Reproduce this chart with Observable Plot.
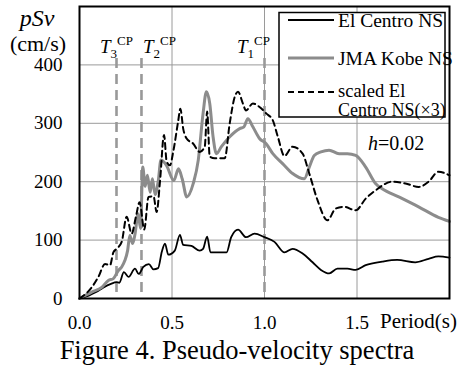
<!DOCTYPE html>
<html><head><meta charset="utf-8">
<script src="https://cdn.jsdelivr.net/npm/d3@7"></script>
<script src="https://cdn.jsdelivr.net/npm/@observablehq/plot@0.6"></script>
<style>
body{margin:0;background:#fff;}
#cap{font-family:"Liberation Serif",serif;font-size:26.5px;line-height:30px;text-align:center;width:462px;padding-left:12px;box-sizing:border-box;color:#000;}
</style></head><body><div id="chart"></div><div id="cap">Figure 4. Pseudo-velocity spectra</div>
<script>
// Data: [period (s), pSv (cm/s)]
const elCentro = [[0,0],[0.05,5],[0.09,11],[0.13,19],[0.17,25],[0.2,28],[0.215,27],[0.24,45],[0.265,37],[0.3,51],[0.32,42],[0.345,54],[0.375,59],[0.4,50],[0.425,52],[0.445,80],[0.462,94],[0.48,75],[0.515,82],[0.543,109],[0.56,92],[0.605,90],[0.65,82],[0.668,85],[0.69,106],[0.708,79],[0.795,79],[0.82,105],[0.857,118],[0.9,105],[0.946,111],[1.0,105],[1.054,97],[1.108,79],[1.152,85],[1.206,77],[1.26,62],[1.305,49],[1.35,43],[1.394,51],[1.448,51],[1.493,49],[1.547,57],[1.636,63],[1.717,66],[1.815,62],[1.887,68],[1.94,72],[2.0,70]];
const jmaKobe = [[0,0],[0.066,11],[0.12,19],[0.156,31],[0.183,34],[0.21,48],[0.228,54],[0.245,65],[0.26,82],[0.272,108],[0.287,94],[0.3,110],[0.317,145],[0.33,120],[0.342,225],[0.355,192],[0.367,211],[0.382,182],[0.394,205],[0.409,178],[0.426,202],[0.44,237],[0.47,228],[0.51,202],[0.535,222],[0.555,205],[0.58,174],[0.615,197],[0.642,237],[0.668,317],[0.686,354],[0.704,334],[0.722,277],[0.74,248],[0.767,260],[0.812,277],[0.866,291],[0.889,294],[0.91,308],[0.937,294],[0.973,274],[1.009,265],[1.045,248],[1.098,231],[1.152,214],[1.215,205],[1.242,225],[1.269,245],[1.305,251],[1.349,254],[1.403,248],[1.448,248],[1.493,245],[1.547,225],[1.6,197],[1.636,188],[1.726,174],[1.833,157],[1.94,139],[2.0,132]];
const scaledElCentro = [[0,0],[0.066,19],[0.102,37],[0.138,59],[0.165,57],[0.183,79],[0.2,85],[0.228,97],[0.255,140],[0.282,111],[0.305,140],[0.325,165],[0.35,118],[0.373,174],[0.4,175],[0.417,148],[0.435,200],[0.457,280],[0.471,235],[0.489,228],[0.507,252],[0.534,305],[0.545,325],[0.561,290],[0.579,274],[0.615,265],[0.65,251],[0.677,260],[0.69,320],[0.704,243],[0.731,240],[0.785,240],[0.812,300],[0.839,345],[0.857,354],[0.883,334],[0.9,322],[0.937,334],[0.973,328],[1.009,317],[1.045,305],[1.072,277],[1.108,244],[1.152,260],[1.206,248],[1.242,214],[1.287,168],[1.34,134],[1.385,154],[1.43,157],[1.493,151],[1.547,171],[1.6,185],[1.69,200],[1.762,197],[1.833,191],[1.887,200],[1.94,217],[2.0,211]];
const cpPeriods = [0.2, 0.335, 1.0];
const cpSubs = ["3", "2", "1"];
const xTicks = [0, 0.5, 1.0, 1.5];
const xGridTicks = [0.5, 1.0, 1.5];
const yTicks = [0, 100, 200, 300, 400];
const yGridTicks = [100, 200, 300, 400];
const seriesNames = ["El Centro NS", "JMA Kobe NS", "scaled El|Centro NS(×3)"];
const dampingText = "0.02";

const serif = "'Liberation Serif', 'Times New Roman', serif";
const lineStyles = [
  {stroke: "#000", strokeWidth: 1.8},
  {stroke: "#8c8c8c", strokeWidth: 3},
  {stroke: "#000", strokeWidth: 2, strokeDasharray: "6,4"}
];
const pts = arr => arr.map(([T, v]) => ({T, v}));

const plot = Plot.plot({
  width: 462, height: 335,
  marginLeft: 79, marginRight: 13, marginTop: 6, marginBottom: 37,
  style: {fontFamily: serif, fontSize: "19px", color: "#000", background: "#fff", overflow: "visible"},
  x: {domain: [0, 2], label: null},
  y: {domain: [0, 500], label: null},
  marks: [
    Plot.gridX(xGridTicks, {stroke: "#9a9a9a", strokeOpacity: 1, strokeWidth: 1}),
    Plot.gridY(yGridTicks, {stroke: "#9a9a9a", strokeOpacity: 1, strokeWidth: 1}),
    Plot.ruleX(cpPeriods, {stroke: "#999", strokeWidth: 2.6, strokeDasharray: "10,6", insetTop: 52}),
    Plot.line(pts(elCentro), {x: "T", y: "v", curve: "monotone-x", ...lineStyles[0]}),
    Plot.line(pts(jmaKobe), {x: "T", y: "v", curve: "monotone-x", ...lineStyles[1]}),
    Plot.line(pts(scaledElCentro), {x: "T", y: "v", curve: "monotone-x", ...lineStyles[2]}),
    Plot.axisX(xTicks, {tickSize: 0, tickPadding: 17, label: null, tickFormat: d3.format(".1f")}),
    Plot.axisY(yTicks, {tickSize: 0, tickPadding: 17, label: null}),
    Plot.frame({stroke: "#000", strokeWidth: 2})
  ]
});
document.getElementById("chart").appendChild(plot);

const svg = d3.select(plot);
const xs = plot.scale("x");
const X = v => xs.apply(v);
const txt = (sel) => sel.append("text").attr("font-family", serif).attr("fill", "#000").attr("text-anchor", "start");

// Y axis title
txt(svg).attr("x", 37).attr("y", 26).attr("text-anchor", "middle").attr("font-size", 24)
  .attr("font-style", "italic").text("pSv");
txt(svg).attr("x", 38).attr("y", 51).attr("text-anchor", "middle").attr("font-size", 22).text("(cm/s)");

// X axis title
txt(svg).attr("x", 380).attr("y", 328).attr("font-size", 21).text("Period(s)");

// T^CP labels
const cpDx = [-16, 2, -27];
cpPeriods.forEach((T, i) => {
  const t = txt(svg).attr("x", X(T) + cpDx[i]).attr("y", 53).attr("font-size", 19);
  t.append("tspan").attr("font-style", "italic").text("T");
  t.append("tspan").attr("font-size", 13).attr("dy", 5).text(cpSubs[i]);
  t.append("tspan").attr("font-size", 13).attr("dy", -13).text("CP");
});

// Legend
const lg = svg.append("g");
lg.append("rect").attr("x", 279).attr("y", 12.5).attr("width", 166).attr("height", 104.5)
  .attr("fill", "#fff").attr("stroke", "#000").attr("stroke-width", 1.5);
const rowY = [20, 58, 92];
const textY = [[26.5], [64.5], [97, 115.5]];
const textSize = [[19.5], [19.5], [18.5, 18]];
seriesNames.forEach((name, i) => {
  const s = lineStyles[i];
  lg.append("line").attr("x1", 288).attr("x2", 334).attr("y1", rowY[i]).attr("y2", rowY[i])
    .attr("stroke", s.stroke).attr("stroke-width", s.strokeWidth)
    .attr("stroke-dasharray", s.strokeDasharray || null);
  name.split("|").forEach((part, j) => {
    txt(lg).attr("x", 338).attr("y", textY[i][j]).attr("font-size", textSize[i][j]).text(part);
  });
});

// damping annotation
const ht = txt(svg).attr("x", 368).attr("y", 150).attr("font-size", 20);
ht.append("tspan").attr("font-style", "italic").text("h");
ht.append("tspan").text("=" + dampingText);
</script></body></html>
